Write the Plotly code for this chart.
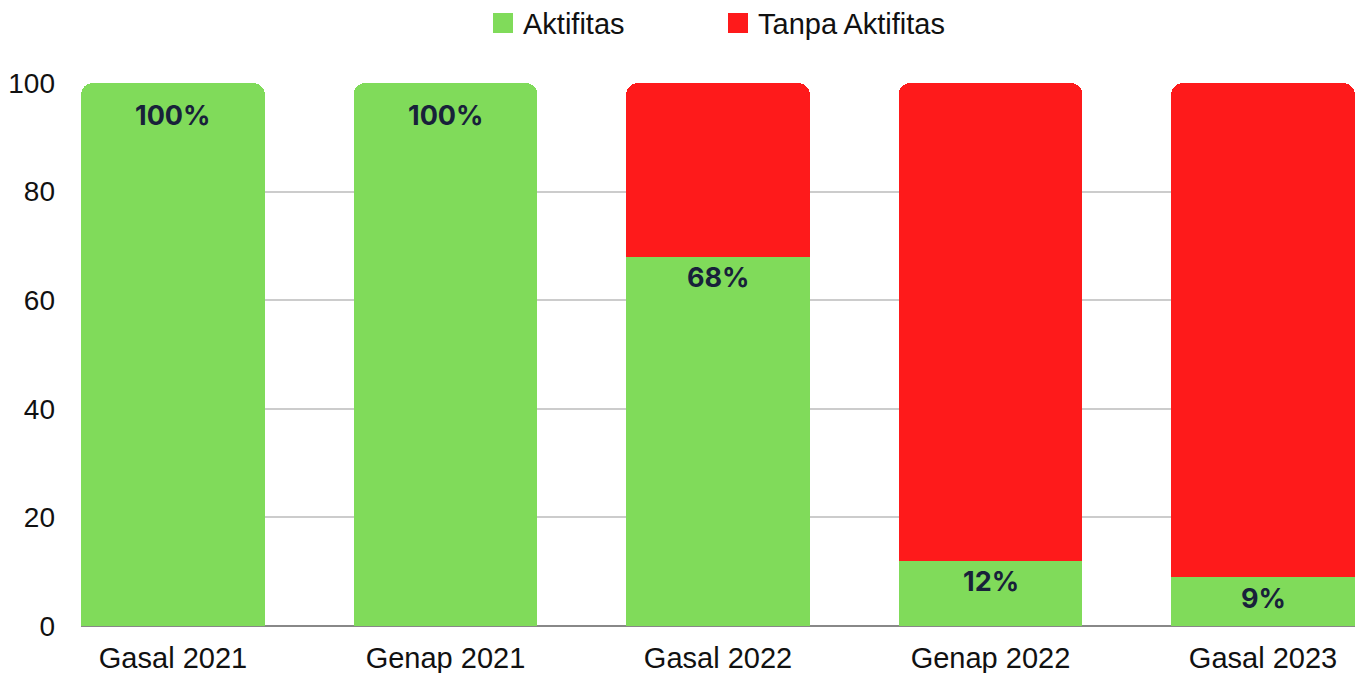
import plotly.graph_objects as go

categories = ["Gasal 2021", "Genap 2021", "Gasal 2022", "Genap 2022", "Gasal 2023"]
aktifitas = [100, 100, 68, 12, 9]
tanpa_aktifitas = [0, 0, 32, 88, 91]
labels = ["100%", "100%", "68%", "12%", "9%"]
y_ticks = [0, 20, 40, 60, 80, 100]

GREEN = "#80db5a"
RED = "#fe1a1b"
idx = list(range(len(categories)))

fig = go.Figure()
fig.add_trace(go.Bar(x=idx, y=aktifitas, marker=dict(color=GREEN, line=dict(width=0)),
                     name="Aktifitas", showlegend=False, hoverinfo="skip"))
fig.add_trace(go.Bar(x=idx, y=tanpa_aktifitas, marker=dict(color=RED, line=dict(width=0)),
                     name="Tanpa Aktifitas", showlegend=False, hoverinfo="skip"))

# legend entries
for nm, col in [("Aktifitas", GREEN), ("Tanpa Aktifitas", RED)]:
    fig.add_trace(go.Scatter(x=[None], y=[None], mode="markers", name=nm,
                             marker=dict(symbol="square", size=16, color=col,
                                         line=dict(color=col, width=4))))

for i, (v, t) in enumerate(zip(aktifitas, labels)):
    fig.add_annotation(x=i, y=v, text=t, showarrow=False, yanchor="middle",
                       yshift=-32 if v >= 100 else -21,
                       font=dict(family="Inter", size=27, color="#18213a", weight="bold"))

fig.update_layout(
    barmode="stack",
    bargap=0.325,
    barcornerradius=12,
    width=1363, height=673,
    margin=dict(l=81, r=8, t=83, b=47, autoexpand=False),
    paper_bgcolor="white", plot_bgcolor="white",
    font=dict(family="Liberation Sans", size=28, color="#111111"),
    showlegend=True,
    legend=dict(orientation="h", x=0.5, xanchor="center", y=1.11, yanchor="middle",
                yref="paper", font=dict(size=29), itemsizing="trace", entrywidth=190,
                traceorder="normal"),
    xaxis=dict(tickmode="array", tickvals=idx, ticktext=categories, range=[-0.3375, 4.3375],
               showgrid=False, zeroline=False, showline=False, ticks="",
               ticklabelstandoff=12, automargin=False, fixedrange=True,
               tickfont=dict(size=29)),
    yaxis=dict(range=[0, 100], tickvals=y_ticks, showgrid=True, gridcolor="#cccccc", gridwidth=1.5,
               zeroline=True, zerolinecolor="#888888", zerolinewidth=2, showline=False,
               ticks="", ticklabelstandoff=25, automargin=False),
)
fig.write_html("out.html", config={"displayModeBar": False},
               post_script="document.body.style.margin='0px';")
